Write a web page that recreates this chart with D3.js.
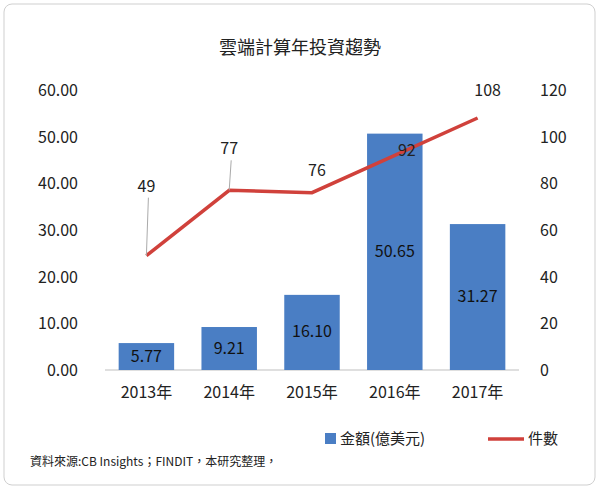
<!DOCTYPE html>
<html><head><meta charset="utf-8">
<script src="https://cdn.jsdelivr.net/npm/d3@7"></script>
<style>body{margin:0;background:#fff}</style>
</head><body>
<svg id="c" width="600" height="490"></svg>
<script>
const categories = ["2013年","2014年","2015年","2016年","2017年"];
const amounts = [5.77, 9.21, 16.10, 50.65, 31.27];
const counts = [49, 77, 76, 92, 108];
const leftTicks = [0,10,20,30,40,50,60];
const rightTicks = [0,20,40,60,80,100,120];
const countLabelOffset = [[0,-70],[0,-42],[5,-23],[12,-5],[10,-28]];

const svg = d3.select("#c");
const font = "'Noto Sans CJK TC','Noto Sans',sans-serif";
svg.append("rect").attr("x",4).attr("y",4).attr("width",591).attr("height",481)
  .attr("rx",8).attr("fill","#fff").attr("stroke","#cfcfcf");
svg.append("text").attr("x",300).attr("y",54).attr("text-anchor","middle")
  .attr("font-family",font).attr("font-size",18).attr("fill","#222").text("雲端計算年投資趨勢");

const x = d3.scaleBand().domain(categories).range([105,519]).paddingInner(0.33).paddingOuter(0.165);
const yL = d3.scaleLinear().domain([0,60]).range([370,90]);
const yR = d3.scaleLinear().domain([0,120]).range([370,90]);

svg.append("line").attr("x1",105).attr("x2",519).attr("y1",370).attr("y2",370).attr("stroke","#bfbfbf");

svg.selectAll("text.yl").data(leftTicks).enter().append("text")
  .attr("x",78).attr("y",d=>yL(d)+6).attr("text-anchor","end")
  .attr("font-family",font).attr("font-size",16).attr("fill","#222").text(d=>d.toFixed(2));
svg.selectAll("text.yr").data(rightTicks).enter().append("text")
  .attr("x",540).attr("y",d=>yR(d)+6).attr("text-anchor","start")
  .attr("font-family",font).attr("font-size",16).attr("fill","#222").text(d=>d);
svg.selectAll("text.xl").data(categories).enter().append("text")
  .attr("x",d=>x(d)+x.bandwidth()/2).attr("y",398).attr("text-anchor","middle")
  .attr("font-family",font).attr("font-size",16).attr("fill","#222").text(d=>d);

svg.selectAll("rect.bar").data(amounts).enter().append("rect")
  .attr("x",(d,i)=>x(categories[i])).attr("width",x.bandwidth())
  .attr("y",d=>yL(d)).attr("height",d=>370-yL(d)).attr("fill","#4a7ec4");
svg.selectAll("text.bl").data(amounts).enter().append("text")
  .attr("x",(d,i)=>x(categories[i])+x.bandwidth()/2)
  .attr("y",d=>(yL(d)+370)/2+5)
  .attr("text-anchor","middle").attr("font-family",font).attr("font-size",16).attr("fill","#111")
  .text(d=>d.toFixed(2));

const cx = i=>x(categories[i])+x.bandwidth()/2;
svg.append("path").datum(counts)
  .attr("d",d3.line().x((d,i)=>cx(i)).y(d=>yR(d)))
  .attr("fill","none").attr("stroke","#d0413b").attr("stroke-width",3.5);
counts.forEach((d,i)=>{
  const px=cx(i), py=yR(d), lx=px+countLabelOffset[i][0], ly=py+countLabelOffset[i][1];
  if (Math.abs(countLabelOffset[i][1])>30)
    svg.append("line").attr("x1",px).attr("y1",py).attr("x2",lx+2).attr("y2",ly+12).attr("stroke","#aaa");
  svg.append("text").attr("x",lx).attr("y",ly+6).attr("text-anchor","middle")
    .attr("font-family",font).attr("font-size",16).attr("fill","#222").text(d);
});

svg.append("rect").attr("x",325).attr("y",433).attr("width",11).attr("height",11).attr("fill","#4a7ec4");
svg.append("text").attr("x",340).attr("y",444).attr("font-family",font).attr("font-size",15).attr("fill","#222").text("金額(億美元)");
svg.append("line").attr("x1",488).attr("x2",524).attr("y1",439).attr("y2",439).attr("stroke","#d0413b").attr("stroke-width",3.5);
svg.append("text").attr("x",528).attr("y",444).attr("font-family",font).attr("font-size",15).attr("fill","#222").text("件數");
svg.append("text").attr("x",30).attr("y",466).attr("font-family","'Noto Sans CJK TC','Liberation Serif',serif").attr("font-size",12).attr("fill","#222").text("資料來源:CB Insights；FINDIT，本研究整理，");
</script>
</body></html>
